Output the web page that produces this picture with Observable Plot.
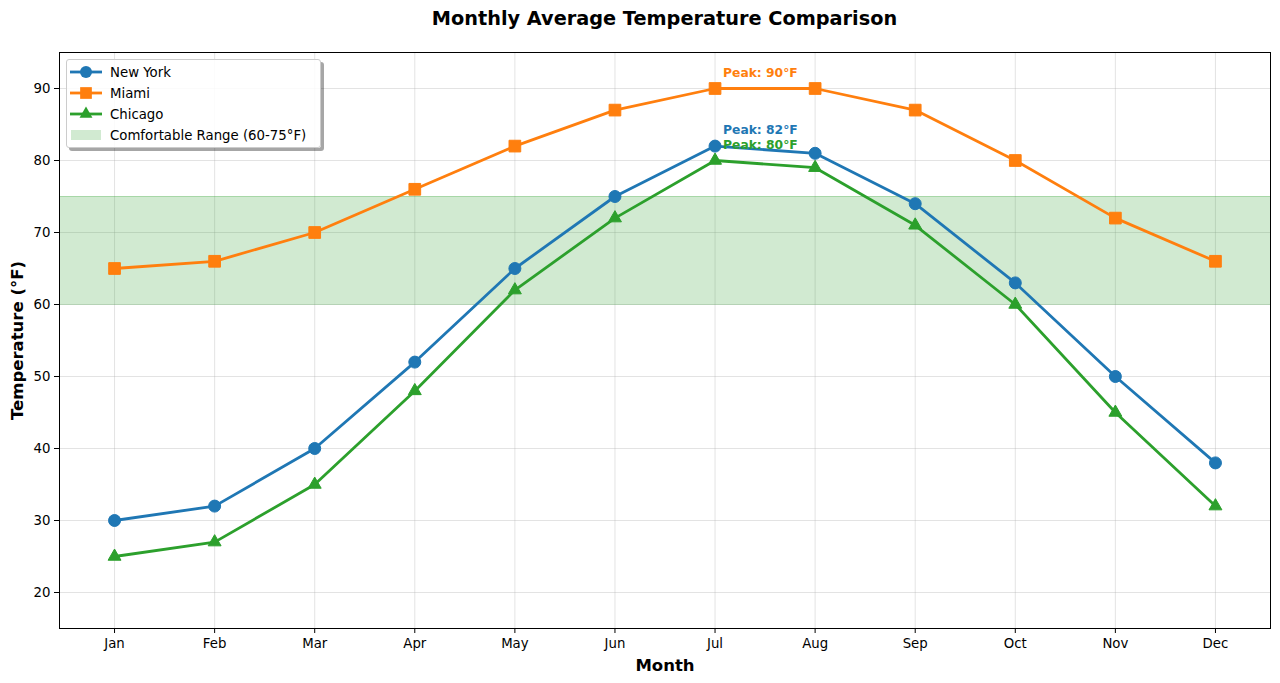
<!DOCTYPE html>
<html>
<head>
<meta charset="utf-8">
<script src="https://cdn.jsdelivr.net/npm/d3@7"></script>
<script src="https://cdn.jsdelivr.net/npm/@observablehq/plot@0.6"></script>
<style>
  body { margin: 0; background: #fff; font-family: "DejaVu Sans", sans-serif; }
  #wrap { position: relative; width: 1280px; height: 683px; }
  #title { height: 38px; line-height: 38px; text-align: center; font-weight: bold; font-size: 19.3px; padding-left: 49px; box-sizing: border-box; }
  #legend { position: absolute; left: 66px; top: 59px; width: 253px; height: 87px; background: rgba(255,255,255,0.85);
    border: 1px solid #ccc; border-radius: 3px; box-shadow: 3px 3px 0 rgba(0,0,0,0.35); font-size: 13.3px; }
  #legend .row { position: absolute; left: 0; height: 20px; display: flex; align-items: center; }
  #legend .row span { position: absolute; left: 43px; white-space: nowrap; }
</style>
</head>
<body>
<div id="wrap">
  <div id="title">Monthly Average Temperature Comparison</div>
  <div id="chart"></div>
  <div id="legend"></div>
</div>
<script>
const months = ["Jan","Feb","Mar","Apr","May","Jun","Jul","Aug","Sep","Oct","Nov","Dec"];
const newYork = [30,32,40,52,65,75,82,81,74,63,50,38];
const miami   = [65,66,70,76,82,87,90,90,87,80,72,66];
const chicago = [25,27,35,48,62,72,80,79,71,60,45,32];
const seriesNames = ["New York","Miami","Chicago"];
const seriesColors = ["#1f77b4","#ff7f0e","#2ca02c"];
const seriesSymbols = ["circle","square","triangle"];
const seriesR = [6, 6.6, 4.8];
const comfortLow = 60, comfortHigh = 75;
const yTicks = [20,30,40,50,60,70,80,90];

const allSeries = [newYork, miami, chicago];
const rows = allSeries.flatMap((vals, s) => vals.map((v, i) => ({series: seriesNames[s], idx: i, month: months[i], temp: v})));

const peaks = allSeries.map((vals, s) => {
  const m = Math.max(...vals);
  const i = vals.indexOf(m);
  return {series: seriesNames[s], idx: i, temp: m, label: `Peak: ${m}°F`, color: seriesColors[s]};
});

const marks = [
  Plot.gridX(d3.range(12), {stroke: "#b0b0b0", strokeOpacity: 0.35}),
  Plot.gridY(yTicks, {stroke: "#b0b0b0", strokeOpacity: 0.35}),
  Plot.rect([{}], {y1: comfortLow, y2: comfortHigh, fill: "#2ca02c", fillOpacity: 0.22}),
  Plot.ruleY([comfortLow, comfortHigh], {stroke: "#2ca02c", strokeOpacity: 0.25}),
];
allSeries.forEach((vals, s) => {
  const data = rows.filter(d => d.series === seriesNames[s]);
  marks.push(Plot.line(data, {x: "idx", y: "temp", stroke: seriesColors[s], strokeWidth: 2.8}));
  marks.push(Plot.dot(data, {x: "idx", y: "temp", fill: seriesColors[s], stroke: seriesColors[s], strokeWidth: 1, symbol: seriesSymbols[s], r: seriesR[s]}));
});
marks.push(Plot.text(peaks, {x: "idx", y: "temp", text: "label", fill: "color", textAnchor: "start", lineAnchor: "bottom", dx: 8, dy: -12, fontWeight: "bold", fontSize: 12.3}));
marks.push(Plot.frame({stroke: "#000", strokeWidth: 1}));
marks.push(Plot.axisY(yTicks, {tickSize: 5, tickPadding: 4, label: null, fontSize: 13.3}));
marks.push(Plot.axisX(d3.range(12), {tickSize: 5, tickPadding: 5, tickFormat: i => months[i], label: null, fontSize: 13.3}));
marks.push(Plot.text(["Temperature (°F)"], {frameAnchor: "left", textAnchor: "middle", lineAnchor: "middle", dx: -42, rotate: -90, fontWeight: "bold", fontSize: 16.5, text: d => d}));
marks.push(Plot.text(["Month"], {frameAnchor: "bottom", textAnchor: "middle", lineAnchor: "middle", dy: 37, fontWeight: "bold", fontSize: 16.5, text: d => d}));

const chart = Plot.plot({
  width: 1280,
  height: 645,
  marginLeft: 59,
  marginRight: 10,
  marginTop: 14,
  marginBottom: 55,
  x: {type: "linear", domain: [-0.55, 11.55]},
  y: {domain: [15, 95]},
  style: {fontFamily: "DejaVu Sans, sans-serif", fontSize: "13px", color: "#000", background: "#fff"},
  marks
});
document.getElementById("chart").appendChild(chart);

// Legend
const legend = document.getElementById("legend");
const ns = "http://www.w3.org/2000/svg";
const rowTops = [2, 23, 44, 65];
seriesNames.forEach((name, s) => {
  const row = document.createElement("div");
  row.className = "row";
  row.style.top = rowTops[s] + "px";
  const svg = document.createElementNS(ns, "svg");
  svg.setAttribute("width", 40); svg.setAttribute("height", 20);
  const line = document.createElementNS(ns, "line");
  line.setAttribute("x1", 3); line.setAttribute("x2", 35); line.setAttribute("y1", 10); line.setAttribute("y2", 10);
  line.setAttribute("stroke", seriesColors[s]); line.setAttribute("stroke-width", 2.8);
  svg.appendChild(line);
  const p = document.createElementNS(ns, "path");
  const sym = [d3.symbolCircle, d3.symbolSquare, d3.symbolTriangle][s];
  p.setAttribute("d", d3.symbol(sym, seriesR[s] * seriesR[s] * Math.PI)());
  p.setAttribute("transform", "translate(19,10)");
  p.setAttribute("fill", seriesColors[s]);
  svg.appendChild(p);
  row.appendChild(svg);
  const t = document.createElement("span"); t.textContent = name;
  row.appendChild(t);
  legend.appendChild(row);
});
{
  const row = document.createElement("div");
  row.className = "row";
  row.style.top = rowTops[3] + "px";
  const svg = document.createElementNS(ns, "svg");
  svg.setAttribute("width", 40); svg.setAttribute("height", 20);
  const r = document.createElementNS(ns, "rect");
  r.setAttribute("x", 4); r.setAttribute("y", 5); r.setAttribute("width", 30); r.setAttribute("height", 10);
  r.setAttribute("fill", "#2ca02c"); r.setAttribute("fill-opacity", 0.22);
  svg.appendChild(r);
  row.appendChild(svg);
  const t = document.createElement("span"); t.textContent = `Comfortable Range (${comfortLow}-${comfortHigh}°F)`;
  row.appendChild(t);
  legend.appendChild(row);
}
</script>
</body>
</html>
